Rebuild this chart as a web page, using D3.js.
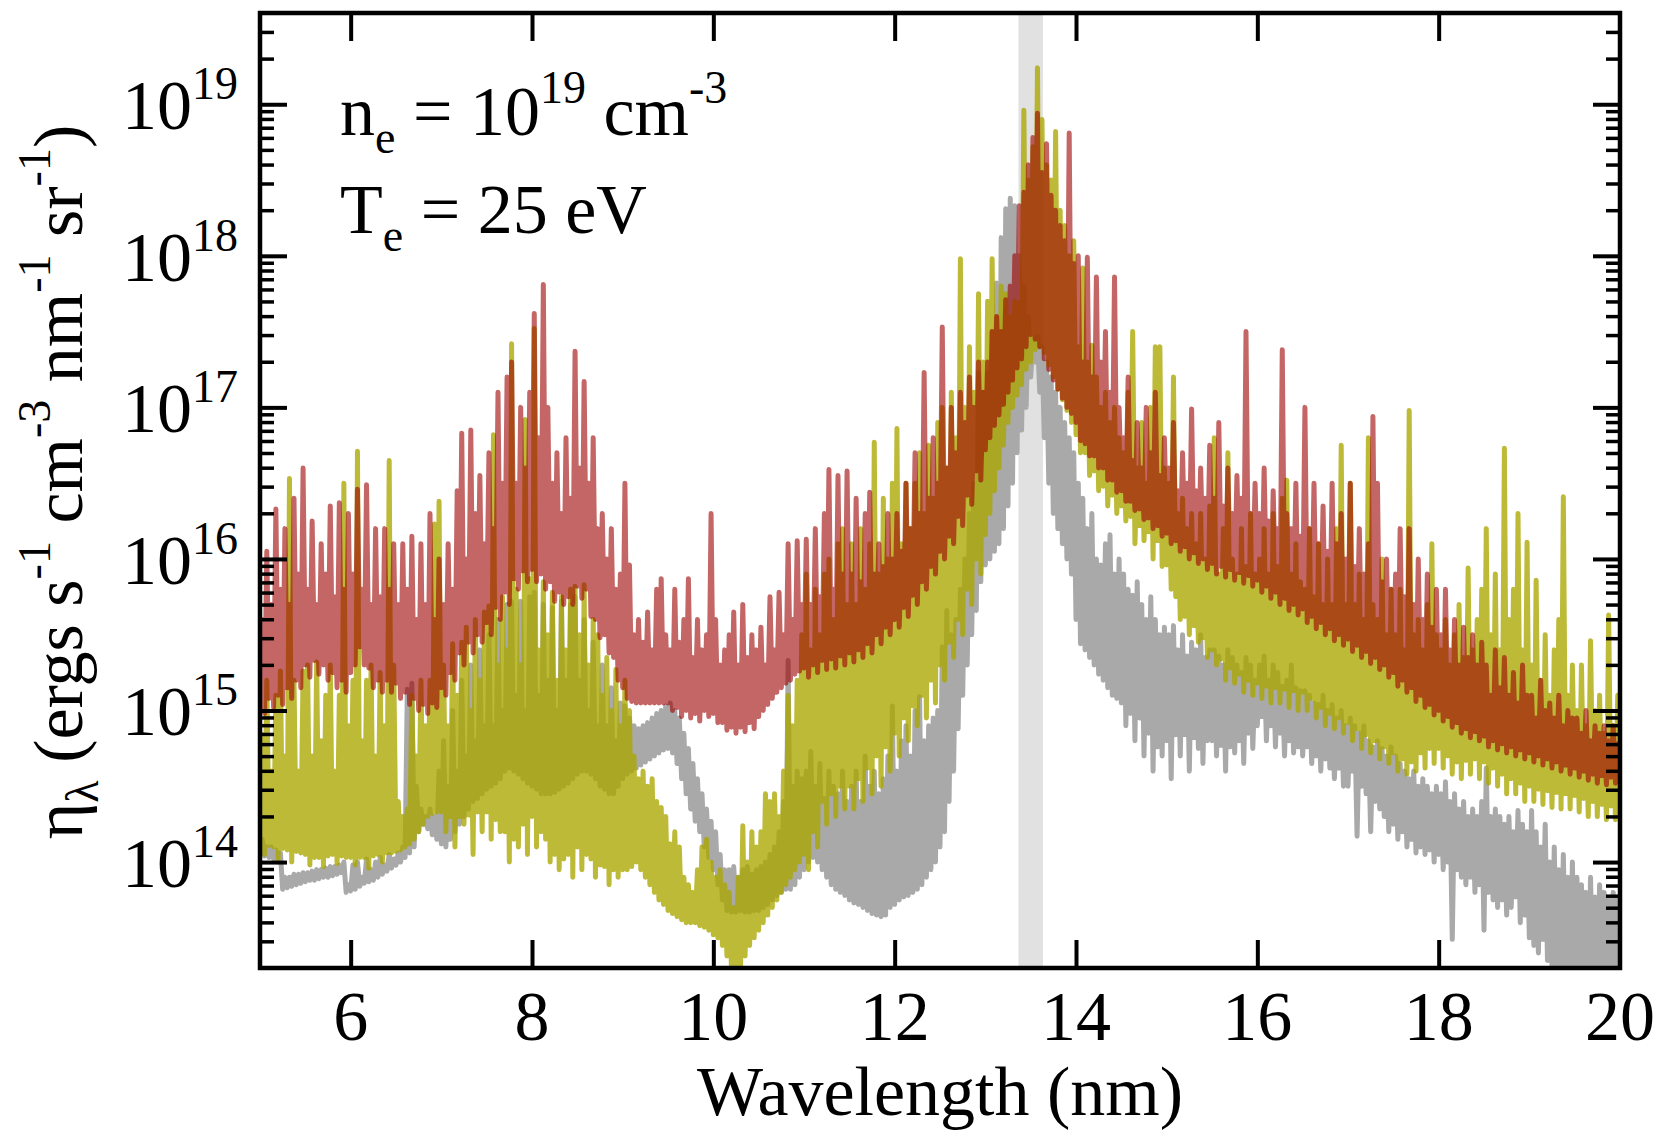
<!DOCTYPE html>
<html>
<head>
<meta charset="utf-8">
<script src="https://cdn.jsdelivr.net/npm/d3@7"></script>
<style>
  body { margin: 0; background: #fff; }
  svg { font-family: "Liberation Serif", "Times New Roman", Times, serif; }
</style>
</head>
<body>
<svg id="chart" width="1663" height="1130"></svg>
<script>
// sampling grid in nm (5.00 .. 20.00, every 0.05 nm)
const wavelengths = d3.range(301).map(i => +(5 + i * 0.05).toFixed(2))

// every series: log10 of eta, lower edge and top of the line forest per sample
const redLow = [
  15.05,14.98,15.08,15.02,15.1,15.04,15.15,15.08,15.2,15.15,
  15.3,15.22,15.33,15.24,15.3,15.2,15.25,15.15,15.2,15.12,
  15.25,15.3,15.42,15.3,15.28,15.15,15.2,15.12,15.2,15.12,
  15.18,15.08,15.12,15.04,15.08,15.0,15.04,14.98,15.05,15.02,
  15.15,15.1,15.25,15.2,15.38,15.3,15.45,15.38,15.5,15.45,
  15.58,15.5,15.68,15.6,15.78,15.7,15.87,15.8,15.92,15.85,
  15.93,15.85,15.9,15.8,15.85,15.72,15.78,15.7,15.75,15.7,
  15.82,15.74,15.8,15.62,15.6,15.48,15.5,15.38,15.35,15.2,
  15.15,15.08,15.06,15.05,15.05,15.05,15.05,15.05,15.05,15.05,
  15.05,15.0,15.02,14.96,15.0,14.95,14.98,14.93,15.0,14.96,
  14.98,14.92,14.92,14.87,14.89,14.85,14.89,14.86,14.92,14.88,
  14.96,15.0,15.04,15.08,15.12,15.15,15.18,15.2,15.24,15.26,
  15.28,15.22,15.3,15.25,15.33,15.27,15.34,15.28,15.36,15.3,
  15.38,15.32,15.4,15.35,15.44,15.38,15.5,15.44,15.55,15.5,
  15.6,15.55,15.68,15.62,15.76,15.7,15.85,15.8,15.95,15.9,
  16.05,16.0,16.15,16.1,16.28,16.22,16.42,16.36,16.58,16.52,
  16.72,16.8,16.88,16.95,17.02,17.1,17.18,17.26,17.32,17.4,
  17.48,17.45,17.4,17.32,17.25,17.18,17.12,17.06,17.0,16.96,
  16.9,16.78,16.76,16.68,16.68,16.6,16.6,16.52,16.52,16.44,
  16.45,16.38,16.38,16.32,16.33,16.26,16.27,16.2,16.22,16.15,
  16.17,16.1,16.12,16.05,16.08,16.0,16.04,15.97,16.0,15.93,
  15.97,15.9,15.95,15.88,15.93,15.86,15.91,15.84,15.89,15.82,
  15.86,15.78,15.82,15.74,15.78,15.7,15.74,15.66,15.7,15.63,
  15.67,15.58,15.62,15.54,15.58,15.5,15.54,15.46,15.5,15.43,
  15.47,15.39,15.43,15.35,15.39,15.31,15.35,15.27,15.3,15.22,
  15.25,15.16,15.2,15.12,15.15,15.06,15.1,15.02,15.04,14.97,
  15.0,14.93,14.96,14.89,14.92,14.85,14.88,14.82,14.86,14.8,
  14.83,14.76,14.8,14.74,14.78,14.72,14.76,14.7,14.74,14.68,
  14.72,14.66,14.7,14.64,14.68,14.62,14.66,14.6,14.64,14.58,
  14.62,14.56,14.6,14.54,14.58,14.52,14.57,14.51,14.56,14.52,
  14.58]
const redHigh = [
  15.6,16.05,15.7,16.33,15.8,16.2,15.7,16.4,15.9,16.6,
  15.8,16.25,15.7,16.1,15.9,16.35,15.75,16.37,15.8,16.3,
  15.9,16.46,15.8,16.49,15.7,16.2,15.75,16.2,15.8,16.1,
  15.7,16.1,15.8,16.15,15.6,16.1,15.7,16.3,15.6,16.0,
  15.7,16.1,15.8,16.45,16.83,16.0,16.85,16.3,16.55,16.1,
  16.7,16.2,17.1,16.5,17.2,17.3,16.5,17.0,16.6,17.1,
  17.62,16.8,17.81,17.0,16.5,16.7,16.3,16.8,16.4,17.37,
  16.6,17.17,16.5,16.8,16.2,16.3,16.0,16.2,15.8,15.9,
  16.5,15.96,15.5,15.6,15.45,15.65,15.4,15.8,15.87,15.5,
  15.4,15.8,15.45,15.6,15.87,15.35,15.6,15.4,15.5,16.3,
  15.6,15.3,15.4,15.5,15.65,15.3,15.7,15.35,15.5,15.4,
  15.55,15.3,15.75,15.4,15.78,15.5,16.1,15.6,16.12,15.7,
  16.13,15.7,16.2,15.75,16.3,16.59,15.8,16.55,15.9,16.58,
  15.9,16.4,15.85,16.3,16.44,15.9,16.1,15.95,16.3,16.0,
  16.3,16.05,16.5,16.2,16.7,16.3,17.23,16.4,16.8,16.5,
  17.53,16.6,17.0,16.7,17.1,16.9,17.2,17.0,17.3,17.1,
  17.3,17.5,17.6,17.5,17.71,17.8,18.0,18.33,18.42,18.6,
  18.78,18.94,18.55,18.74,18.4,18.3,18.2,18.1,18.81,17.95,
  18.0,17.3,17.99,17.2,17.86,17.3,17.5,17.1,17.86,17.0,
  16.8,17.2,16.65,16.9,16.6,17.0,16.7,17.1,16.55,16.8,
  16.6,16.9,16.45,16.7,16.5,16.99,16.45,16.6,16.4,16.75,
  16.4,16.9,16.35,16.6,16.3,16.55,16.4,17.5,16.3,16.5,
  16.3,16.6,16.25,16.45,16.2,17.38,16.3,16.2,16.5,16.15,
  17.0,16.2,16.5,16.1,16.35,16.05,16.5,16.1,16.3,16.0,
  16.5,15.95,16.2,15.9,16.1,16.94,16.5,15.85,16.0,15.8,
  15.9,16.2,15.75,16.2,15.7,16.0,15.6,15.9,15.55,15.8,
  15.5,15.8,15.4,15.6,15.3,15.55,15.35,15.5,15.3,15.45,
  15.3,15.1,15.4,15.15,15.35,15.1,15.25,15.05,15.3,15.1,
  15.1,14.95,15.2,15.0,15.05,14.95,15.1,14.9,15.0,14.95,
  14.95,14.85,15.0,14.8,14.9,14.85,14.9,14.8,14.9,14.78,
  14.75]

const yellowLow = [
  14.12,14.05,14.11,14.1,14.02,14.09,14.08,14.0,14.07,14.06,
  14.05,13.98,14.03,14.03,13.97,14.04,14.05,13.99,14.04,14.03,
  14.03,13.98,14.03,14.03,13.96,14.04,14.05,14.0,14.06,14.06,
  14.07,14.08,14.1,14.12,14.15,14.2,14.25,14.3,14.32,14.33,
  14.33,14.2,14.3,14.1,14.3,14.25,14.31,14.05,14.33,14.2,
  14.33,14.15,14.28,14.2,14.2,14.0,14.15,14.1,14.25,14.05,
  14.3,14.1,14.2,14.15,14.0,14.05,13.95,14.02,14.05,13.9,
  14.1,13.95,14.05,14.02,13.9,13.98,13.97,13.85,13.95,13.9,
  13.95,13.95,13.97,14.0,13.95,13.9,13.85,13.8,13.75,13.72,
  13.68,13.66,13.64,13.62,13.6,13.6,13.6,13.58,13.57,13.55,
  13.52,13.5,13.45,13.38,13.3,13.28,13.3,13.38,13.45,13.5,
  13.55,13.6,13.65,13.7,13.75,13.8,13.85,13.9,13.95,14.0,
  14.05,13.95,14.2,14.1,14.4,14.25,14.45,14.3,14.5,14.35,
  14.5,14.35,14.55,14.4,14.62,14.45,14.7,14.5,14.76,14.6,
  14.85,14.7,14.95,14.8,15.03,14.9,15.1,14.95,15.2,15.05,
  15.3,15.2,15.45,15.35,15.6,15.5,15.8,15.7,16.0,15.9,
  16.16,16.3,16.45,16.6,16.75,16.9,17.0,17.08,17.15,17.25,
  17.3,17.38,17.4,17.36,17.28,17.2,17.12,17.05,16.98,16.9,
  16.82,16.7,16.7,16.55,16.58,16.45,16.48,16.35,16.42,16.3,
  16.35,16.25,16.28,16.1,16.22,16.12,16.18,16.0,16.12,15.95,
  15.96,15.8,15.75,15.6,15.62,15.5,15.56,15.45,15.48,15.35,
  15.4,15.3,15.34,15.2,15.28,15.18,15.24,15.12,15.2,15.1,
  15.18,15.08,15.16,15.05,15.15,15.05,15.14,15.02,15.13,15.0,
  15.12,15.0,15.08,14.95,15.02,14.9,14.98,14.88,14.95,14.85,
  14.92,14.8,14.88,14.75,14.84,14.72,14.8,14.68,14.76,14.65,
  14.72,14.6,14.68,14.58,14.66,14.6,14.72,14.62,14.75,14.65,
  14.75,14.62,14.7,14.58,14.66,14.55,14.67,14.58,14.68,14.55,
  14.66,14.52,14.62,14.5,14.58,14.45,14.55,14.45,14.52,14.4,
  14.5,14.4,14.48,14.38,14.47,14.36,14.46,14.35,14.45,14.35,
  14.44,14.33,14.42,14.3,14.4,14.3,14.38,14.28,14.37,14.28,
  14.36]
const yellowHigh = [
  14.84,15.2,14.6,15.1,15.26,14.7,16.53,15.2,14.6,15.26,
  15.3,14.7,15.32,14.8,15.1,15.3,14.6,15.1,16.5,14.9,
  15.2,16.71,14.8,15.2,15.3,14.7,15.25,14.9,16.65,15.3,
  14.4,14.3,14.35,15.1,14.7,15.2,14.9,15.2,16.23,16.38,
  15.3,14.9,15.44,15.1,15.45,15.55,15.0,15.6,15.2,15.65,
  15.69,16.82,15.3,15.75,15.4,17.42,15.8,15.3,16.92,15.87,
  17.52,15.4,15.85,15.5,15.78,15.2,15.75,15.4,15.8,15.82,
  15.5,15.83,15.3,15.6,15.5,15.1,15.35,15.0,15.27,14.9,
  15.2,15.0,14.7,14.55,14.6,14.5,14.55,14.4,14.36,14.3,
  14.12,14.2,14.1,13.9,13.85,13.8,13.95,14.1,14.15,14.0,
  13.9,13.95,13.85,13.8,13.7,13.9,14.24,14.0,14.2,14.1,
  14.2,14.45,14.4,14.45,14.3,14.6,15.1,14.9,15.2,15.5,
  15.9,15.4,15.8,15.5,15.9,16.0,15.6,16.1,16.2,15.7,
  16.1,15.7,16.2,15.8,16.1,16.77,15.9,16.4,16.0,16.5,
  16.86,16.1,16.5,16.2,16.5,16.7,16.3,16.75,16.4,16.9,
  17.0,16.6,17.1,16.8,17.98,17.0,17.4,17.1,17.75,17.3,
  17.7,17.98,17.6,17.8,17.75,17.6,17.7,17.69,18.96,18.5,
  18.72,19.24,18.9,18.6,18.5,18.82,18.3,18.2,18.0,18.1,
  17.4,17.92,17.3,17.41,17.2,17.0,17.1,16.9,17.0,16.8,
  16.7,17.1,17.5,16.6,16.9,16.5,17.0,17.4,17.4,16.6,
  16.5,17.2,16.3,16.4,16.2,16.3,16.1,16.3,16.0,16.35,
  16.8,15.9,16.2,16.7,16.0,15.9,16.2,15.95,16.3,15.9,
  16.0,16.2,15.9,16.3,15.95,16.4,16.52,15.9,16.1,15.85,
  15.8,16.2,15.75,16.1,15.7,16.0,15.7,16.2,16.75,15.7,
  16.5,15.7,15.9,15.6,16.8,15.7,15.6,16.0,15.5,15.8,
  15.5,15.8,15.4,16.98,15.5,15.6,15.4,15.7,16.1,15.5,
  15.4,15.6,15.3,15.5,15.7,15.35,15.94,15.4,15.6,15.8,
  16.2,15.5,15.9,15.4,16.73,15.6,15.8,16.3,15.4,16.11,
  15.3,15.86,15.2,15.5,15.1,15.4,15.6,16.41,15.1,15.3,
  15.0,15.3,14.9,15.46,15.0,15.1,14.85,15.63,14.9,15.1,
  14.9]

const grayLow = [
  14.05,14.04,14.03,14.02,14.0,13.82,13.83,13.84,13.85,13.86,
  13.87,13.88,13.88,13.89,13.9,13.9,13.91,13.92,13.93,13.8,
  13.81,13.82,13.84,13.86,13.87,13.88,13.9,13.92,13.94,13.96,
  13.98,14.0,14.03,14.06,14.1,14.2,14.25,14.22,14.18,14.15,
  14.12,14.1,14.15,14.2,14.25,14.3,14.35,14.4,14.42,14.45,
  14.48,14.5,14.52,14.55,14.6,14.62,14.6,14.58,14.55,14.52,
  14.5,14.48,14.45,14.45,14.45,14.46,14.48,14.5,14.52,14.55,
  14.58,14.6,14.6,14.58,14.55,14.5,14.48,14.45,14.45,14.5,
  14.55,14.58,14.6,14.62,14.64,14.66,14.68,14.7,14.72,14.74,
  14.75,14.72,14.65,14.55,14.45,14.35,14.27,14.2,14.1,14.03,
  13.95,13.85,13.75,13.68,13.67,13.67,13.68,13.67,13.67,13.68,
  13.68,13.7,13.72,13.75,13.78,13.8,13.82,13.82,13.85,13.9,
  13.95,14.0,14.03,14.0,13.95,13.9,13.85,13.82,13.8,13.78,
  13.75,13.73,13.72,13.7,13.68,13.66,13.65,13.64,13.65,13.7,
  13.72,13.75,13.77,13.78,13.8,13.82,13.85,13.9,13.95,14.0,
  14.1,14.2,14.4,14.6,14.88,15.1,15.3,15.5,15.66,15.85,
  15.96,16.0,16.05,16.1,16.2,16.35,16.5,16.7,16.85,17.0,
  17.2,17.3,17.1,16.8,16.5,16.3,16.2,16.1,16.0,15.9,
  15.6,15.44,15.4,15.35,15.3,15.24,15.2,15.15,15.1,15.08,
  15.05,14.9,14.98,14.8,14.95,14.7,14.85,14.6,14.76,14.7,
  14.8,14.55,14.84,14.7,14.84,14.6,14.82,14.75,14.65,14.8,
  14.8,14.7,14.77,14.6,14.76,14.72,14.8,14.65,14.85,14.75,
  14.9,14.96,14.8,14.9,14.76,14.85,14.7,14.8,14.72,14.76,
  14.7,14.76,14.65,14.7,14.6,14.68,14.62,14.55,14.62,14.5,
  14.5,14.6,14.17,14.5,14.45,14.2,14.4,14.35,14.3,14.2,
  14.25,14.15,14.2,14.1,14.15,14.06,14.1,14.05,14.08,14.0,
  14.05,13.95,14.0,13.49,13.95,13.9,13.85,13.9,13.8,13.85,
  13.55,13.8,13.75,13.7,13.75,13.65,13.7,13.77,13.6,13.65,
  13.5,13.45,13.4,13.49,13.35,13.3,13.25,13.2,13.25,13.2,
  13.15,13.2,13.1,13.15,13.1,13.05,13.1,13.05,13.0,13.0,
  13.0]
const grayHigh = [
  14.15,14.1,14.1,14.08,14.06,13.9,13.9,13.92,13.92,13.93,
  13.93,13.94,13.95,13.95,13.96,13.97,13.97,13.98,14.0,13.85,
  13.98,14.0,13.9,14.02,13.95,14.0,14.03,13.98,14.05,14.02,
  14.06,14.1,15.14,15.18,14.5,14.35,14.3,14.35,14.3,14.6,
  14.8,14.5,15.0,14.6,15.2,14.7,15.3,14.8,15.4,14.9,
  15.5,14.9,15.6,15.0,15.7,15.72,15.1,15.72,15.0,15.75,
  15.78,15.1,15.7,15.2,15.68,15.0,15.72,15.2,15.7,15.75,
  15.2,15.6,15.0,15.45,14.9,15.3,14.9,15.15,14.8,15.05,
  15.03,14.95,14.9,14.88,14.9,14.92,14.95,14.98,15.0,15.03,
  15.05,15.0,14.95,14.85,14.75,14.65,14.55,14.45,14.35,14.27,
  14.2,14.05,13.95,13.95,13.97,13.9,13.95,13.97,13.92,13.95,
  13.97,14.0,14.05,14.1,14.2,14.4,15.33,14.5,14.6,14.55,
  14.6,14.73,14.5,14.65,14.42,14.6,14.5,14.45,14.6,14.4,
  14.5,14.6,14.4,14.7,14.5,14.6,14.45,14.55,14.7,15.03,
  14.6,14.8,14.9,14.7,15.0,15.09,14.8,14.9,14.95,15.0,
  15.42,15.66,15.5,15.6,15.8,16.0,16.3,16.5,17.23,17.1,
  17.23,17.5,17.82,18.12,18.31,18.38,18.33,18.0,17.8,17.6,
  17.45,17.47,17.4,17.3,17.2,17.1,17.0,16.9,16.8,16.7,
  16.5,16.4,16.2,16.3,16.0,15.96,16.1,16.16,15.9,16.0,
  15.9,15.8,15.76,15.85,15.7,15.6,15.75,15.6,15.5,15.55,
  15.5,15.56,15.4,15.5,15.36,15.45,15.4,15.5,15.35,15.4,
  15.4,15.36,15.3,15.4,15.35,15.3,15.25,15.35,15.3,15.2,
  15.3,15.36,15.2,15.3,15.25,15.16,15.2,15.3,15.15,15.13,
  15.13,15.1,15.05,15.04,15.1,15.0,15.04,14.95,15.0,14.9,
  14.95,14.9,14.85,14.9,14.8,14.76,14.8,14.75,14.7,14.76,
  14.7,14.65,14.6,14.55,14.6,14.5,14.55,14.5,14.45,14.5,
  14.45,14.53,14.4,14.45,14.35,14.4,14.3,14.35,14.3,14.4,
  14.62,14.3,14.35,14.3,14.25,14.3,14.2,14.34,14.25,14.2,
  14.34,14.2,14.1,14.25,14.0,14.1,13.95,14.05,13.9,14.0,
  13.9,13.85,13.8,13.9,13.77,13.85,13.8,13.75,13.8,13.77,
  13.7]

const euvBand = [13.365, 13.635]          // shaded 13.5 nm in-band window
const xTickValues = [6, 8, 10, 12, 14, 16, 18, 20]
const yDecades = [14, 15, 16, 17, 18, 19]

const margin = {left: 260, right: 43, top: 13, bottom: 162}
const width = 1663, height = 1130
const x0 = margin.left, x1 = width - margin.right
const y0 = margin.top, y1 = height - margin.bottom

const svg = d3.select('#chart')

const x = d3.scaleLinear().domain([5, 20]).range([x0, x1])
const y = d3.scaleLog().domain([2e13, 4e19]).range([y1, y0])

svg.append('defs').append('clipPath')
    .attr('id', 'plot-clip')
    .append('rect')
    .attr('x', x0).attr('y', y0)
    .attr('width', x1 - x0).attr('height', y1 - y0)

// in-band shading
svg.append('rect')
    .attr('x', x(euvBand[0]))
    .attr('y', y0)
    .attr('width', x(euvBand[1]) - x(euvBand[0]))
    .attr('height', y1 - y0)
    .attr('fill', '#e1e1e1')

const series = [
    {name: 'gray', low: grayLow, high: grayHigh, color: 'rgb(169,169,169)', opacity: 1},
    {name: 'yellow', low: yellowLow, high: yellowHigh, color: 'rgb(170,167,0)', opacity: 0.78},
    {name: 'red', low: redLow, high: redHigh, color: 'rgb(157,0,0)', opacity: 0.6}
]

const half = 0.025
const line = d3.line()
    .x(d => x(d[0]))
    .y(d => y(Math.pow(10, d[1])))

const plot = svg.append('g').attr('clip-path', 'url(#plot-clip)')

plot.selectAll('path.spectrum')
    .data(series)
    .join('path')
    .attr('class', 'spectrum')
    .attr('d', s => line(wavelengths.flatMap((w, i) => [[w, s.low[i]], [w + half, s.high[i]]])))
    .attr('fill', 'none')
    .attr('stroke', s => s.color)
    .attr('stroke-opacity', s => s.opacity)
    .attr('stroke-width', 5)
    .attr('stroke-linejoin', 'round')
    .attr('stroke-linecap', 'round')

// ticks, all pointing inward
const isDecade = t => Math.abs(Math.log10(t) - Math.round(Math.log10(t))) < 1e-6
const yTicks = y.ticks().filter(t => t > 2e13 && t < 4e19)
const yMajor = yTicks.filter(isDecade)
const yMinor = yTicks.filter(t => !isDecade(t))
const xMajor = xTickValues.filter(v => v < 20)

function tickStyle(g, w) {
    g.select('.domain').remove()
    g.selectAll('.tick line').attr('stroke', '#000').attr('stroke-width', w)
}

svg.append('g').attr('transform', `translate(${x0},0)`)
    .call(d3.axisLeft(y).tickValues(yMajor).tickSize(-27).tickFormat(''))
    .call(g => tickStyle(g, 4))
svg.append('g').attr('transform', `translate(${x0},0)`)
    .call(d3.axisLeft(y).tickValues(yMinor).tickSize(-14).tickFormat(''))
    .call(g => tickStyle(g, 3.5))
svg.append('g').attr('transform', `translate(${x1},0)`)
    .call(d3.axisRight(y).tickValues(yMajor).tickSize(-27).tickFormat(''))
    .call(g => tickStyle(g, 4))
svg.append('g').attr('transform', `translate(${x1},0)`)
    .call(d3.axisRight(y).tickValues(yMinor).tickSize(-14).tickFormat(''))
    .call(g => tickStyle(g, 3.5))
svg.append('g').attr('transform', `translate(0,${y1})`)
    .call(d3.axisBottom(x).tickValues(xMajor).tickSize(-28).tickFormat(''))
    .call(g => tickStyle(g, 4))
svg.append('g').attr('transform', `translate(0,${y0})`)
    .call(d3.axisTop(x).tickValues(xMajor).tickSize(-28).tickFormat(''))
    .call(g => tickStyle(g, 4))

// frame
svg.append('rect')
    .attr('x', x0).attr('y', y0)
    .attr('width', x1 - x0).attr('height', y1 - y0)
    .attr('fill', 'none')
    .attr('stroke', '#000')
    .attr('stroke-width', 4.5)

// x tick labels
svg.append('g').selectAll('text')
    .data(xTickValues)
    .join('text')
    .attr('x', d => x(d))
    .attr('y', 1040)
    .attr('text-anchor', 'middle')
    .attr('font-size', 70)
    .text(d => d)

// y tick labels, 10 with superscript exponent
svg.append('g').selectAll('text')
    .data(yDecades)
    .join('text')
    .attr('x', 238)
    .attr('y', d => y(Math.pow(10, d)) + 25)
    .attr('text-anchor', 'end')
    .attr('font-size', 70)
    .call(t => t.append('tspan').text('10'))
    .call(t => t.append('tspan').attr('font-size', 46).attr('dy', -30).text(d => d))

svg.append('text')
    .attr('x', (x0 + x1) / 2)
    .attr('y', 1115)
    .attr('text-anchor', 'middle')
    .attr('font-size', 70)
    .text('Wavelength (nm)')

// y axis title
const yTitle = svg.append('text')
    .attr('transform', 'translate(82,482) rotate(-90)')
    .attr('text-anchor', 'middle')
    .attr('font-size', 70)
const yParts = [
    ['η', 0], ['λ', 1], [' (ergs s', 0], ['-1', 2], [' cm', 0], ['-3', 2],
    [' nm', 0], ['-1', 2], [' sr', 0], ['-1', 2], [')', 0]
]
let prevShift = 0
yParts.forEach(([txt, kind]) => {
    const shift = kind === 1 ? 16 : kind === 2 ? -32 : 0
    yTitle.append('tspan')
        .attr('font-size', kind ? 46 : 70)
        .attr('dy', shift - prevShift)
        .text(txt)
    prevShift = shift
})

// conditions
function richText(xPos, yPos, parts) {
    const t = svg.append('text').attr('x', xPos).attr('y', yPos).attr('font-size', 70)
    let prev = 0
    parts.forEach(([txt, kind]) => {
        const shift = kind === 1 ? 18 : kind === 2 ? -32 : 0
        t.append('tspan')
            .attr('font-size', kind ? 46 : 70)
            .attr('dy', shift - prev)
            .text(txt)
        prev = shift
    })
}
richText(340, 135, [['n', 0], ['e', 1], [' = 10', 0], ['19', 2], [' cm', 0], ['-3', 2]])
richText(340, 233, [['T', 0], ['e', 1], [' = 25 eV', 0]])
</script>
</body>
</html>
